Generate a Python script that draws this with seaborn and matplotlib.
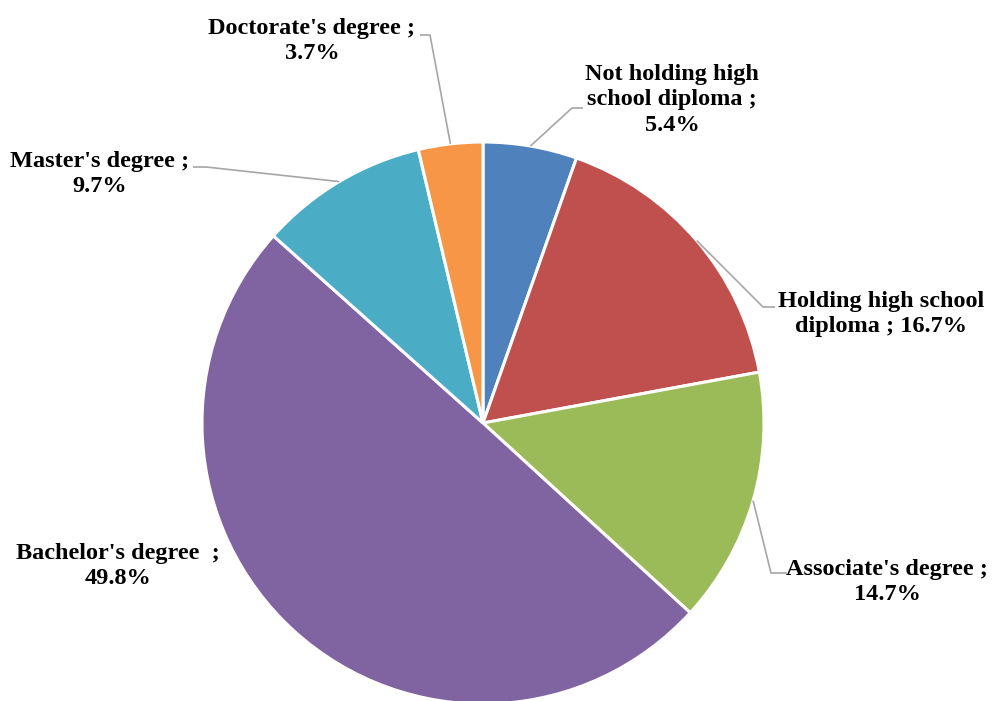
import numpy as np
import matplotlib
matplotlib.use("Agg")
import matplotlib.pyplot as plt
import seaborn as sns

# data
categories = ["Not holding high school diploma", "Holding high school diploma",
              "Associate's degree", "Bachelor's degree", "Master's degree",
              "Doctorate's degree"]
shares = [5.4, 16.7, 14.7, 49.8, 9.7, 3.7]
label_texts = ["Not holding high\nschool diploma ;\n5.4%",
               "Holding high school\ndiploma ; 16.7%",
               "Associate's degree ;\n14.7%",
               "Bachelor's degree  ;\n49.8%",
               "Master's degree ;\n9.7%",
               "Doctorate's degree ;\n3.7%"]
colors = ["#4F81BD", "#C0504D", "#9BBB59", "#8064A2", "#4BACC6", "#F79646"]

sns.set_theme(style="white")
plt.rcParams['font.family'] = ['Liberation Serif', 'DejaVu Serif']

W, H = 992, 701
fig = plt.figure(figsize=(W / 100, H / 100), dpi=100)
ax = fig.add_axes([0, 0, 1, 1])

cx, cy, R = 483, H - 423, 281
ax.pie(shares, colors=sns.color_palette(colors), startangle=90, counterclock=False,
       center=(cx, cy), radius=R, frame=True,
       wedgeprops=dict(edgecolor="white", linewidth=2.2))
ax.set_xlim(0, W)
ax.set_ylim(0, H)
ax.axis("off")

# label layout: text centre, elbow point, line end near text (image coords), None = no leader
layout = [
    ((672, 100), (572, 108), (583, 108)),
    ((881, 314), (763, 307), (775, 307)),
    ((887, 582), (771, 573), (787, 573)),
    ((118, 566), None, None),
    ((100, 174), (206, 167), (193, 167)),
    ((312, 41), (430, 35), (420, 35)),
]

cum = np.cumsum([0] + shares)
for i, (txt, (tpos, elbow, end)) in enumerate(zip(label_texts, layout)):
    mid = (cum[i] + cum[i + 1]) / 2 / 100 * 2 * np.pi
    rx = cx + R * np.sin(mid)
    ry = cy + R * np.cos(mid)
    if elbow is not None:
        ax.plot([rx, elbow[0], end[0]], [ry, H - elbow[1], H - end[1]],
                color="#A6A6A6", lw=1.2, solid_capstyle="butt")
    ax.text(tpos[0], H - tpos[1], txt, ha="center", va="center", linespacing=1.3,
            fontsize=17.5, fontweight="bold", color="black", multialignment="center")

fig.savefig("out.png", dpi=100)
